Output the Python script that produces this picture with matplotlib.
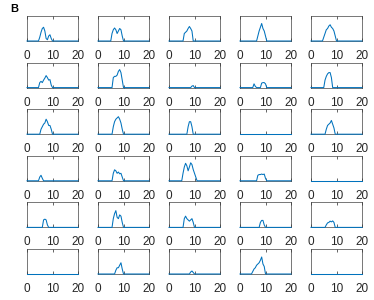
import numpy as np
import matplotlib
matplotlib.use('Agg')
import matplotlib.pyplot as plt

# x grid shared by all panels (0..20, step 0.5)
step = 0.5
x = np.arange(0, 20 + step, step)

# each panel: (x where the bump starts, bump values on the 0.5 grid)
row1 = [(4.5, [0, 0.15, 0.35, 0.5, 0.55, 0.4, 0.1, 0.05, 0.2, 0.25, 0.1, 0]),
        (5.0, [0, 0.3, 0.45, 0.52, 0.45, 0.3, 0.4, 0.5, 0.45, 0.2, 0]),
        (5.5, [0, 0.3, 0.35, 0.4, 0.5, 0.58, 0.5, 0.4, 0]),
        (6.5, [0, 0.2, 0.4, 0.55, 0.7, 0.5, 0.4, 0.2, 0]),
        (4.5, [0, 0.15, 0.3, 0.45, 0.5, 0.6, 0.65, 0.55, 0.5, 0.4, 0.2, 0])]
row2 = [(4.5, [0, 0.2, 0.25, 0.2, 0.3, 0.38, 0.48, 0.4, 0.3, 0.32, 0.1, 0]),
        (5.5, [0, 0.4, 0.45, 0.45, 0.5, 0.65, 0.72, 0.6, 0.3, 0]),
        (8.5, [0, 0.06, 0.08, 0]),
        (5.0, [0, 0.15, 0.05, 0, 0, 0, 0, 0.18, 0.2, 0.2, 0.15, 0]),
        (5.0, [0, 0.3, 0.45, 0.55, 0.6, 0.6, 0.4, 0])]
row3 = [(5.0, [0, 0.2, 0.3, 0.4, 0.45, 0.6, 0.5, 0.35, 0.35, 0.2, 0]),
        (5.5, [0, 0.3, 0.5, 0.6, 0.65, 0.7, 0.6, 0.45, 0.2, 0]),
        (7.0, [0, 0.3, 0.5, 0.5, 0.3, 0]),
        (0.0, []),
        (5.5, [0, 0.2, 0.35, 0.4, 0.45, 0.55, 0.4, 0.25, 0])]
row4 = [(4.5, [0, 0.15, 0.22, 0.1, 0]),
        (5.5, [0, 0.3, 0.44, 0.4, 0.3, 0.35, 0.28, 0.3, 0.15, 0]),
        (5.0, [0, 0.3, 0.55, 0.7, 0.6, 0.4, 0.55, 0.72, 0.65, 0.45, 0.3, 0.15, 0]),
        (6.5, [0, 0.22, 0.25, 0.25, 0.27, 0.25, 0.27, 0.1, 0]),
        (0.0, [])]
row5 = [(6.0, [0, 0.3, 0.33, 0.3, 0.1, 0]),
        (5.5, [0, 0.35, 0.55, 0.67, 0.4, 0.35, 0.5, 0.45, 0.2, 0]),
        (5.5, [0, 0.35, 0.45, 0.35, 0.3, 0.25, 0.3, 0.35, 0.2, 0]),
        (7.5, [0, 0.2, 0.28, 0.28, 0.1, 0]),
        (5.5, [0, 0.1, 0.18, 0.2, 0.25, 0.22, 0.26, 0.2, 0])]
row6 = [(0.0, []),
        (6.5, [0, 0.15, 0.25, 0.25, 0.35, 0.45, 0.2, 0]),
        (8.0, [0, 0.08, 0.12, 0.06, 0]),
        (4.5, [0, 0.1, 0.2, 0.25, 0.35, 0.4, 0.45, 0.55, 0.68, 0.4, 0.3, 0]),
        (0.0, [])]
rows = [row1, row2, row3, row4, row5, row6]

xticks = [0, 10, 20]

plt.rcParams['font.family'] = ['Liberation Sans', 'DejaVu Sans']

fig = plt.figure(figsize=(3.74, 3.0), dpi=100)
W, H = 374.0, 300.0

for r, row in enumerate(rows):
    for c, (start, vals) in enumerate(row):
        left = (27 + 71.0 * c) / W
        top = (16 + 46.6 * r) / H
        ax = fig.add_axes([left, 1 - top - 25 / H, 51 / W, 25 / H])

        y = np.zeros_like(x)
        i0 = int(round(start / step))
        y[i0:i0 + len(vals)] = vals
        ax.plot(x, y, color='#0072BD', lw=0.75, zorder=5, clip_on=False)

        ax.set_xlim(0, 20)
        ax.set_ylim(0, 1)
        ax.set_xticks(xticks)
        ax.set_yticks([])
        ax.tick_params(axis='x', direction='in', length=2, width=0.5,
                       top=True, labelsize=8.5, pad=6.5, colors='#262626')
        for s in ax.spines.values():
            s.set_linewidth(0.5)
            s.set_color('#404040')

fig.text(10 / W, 1 - 4 / H, 'B', fontsize=8, fontweight='bold', va='top', ha='left')

fig.savefig('out.png', dpi=100)
